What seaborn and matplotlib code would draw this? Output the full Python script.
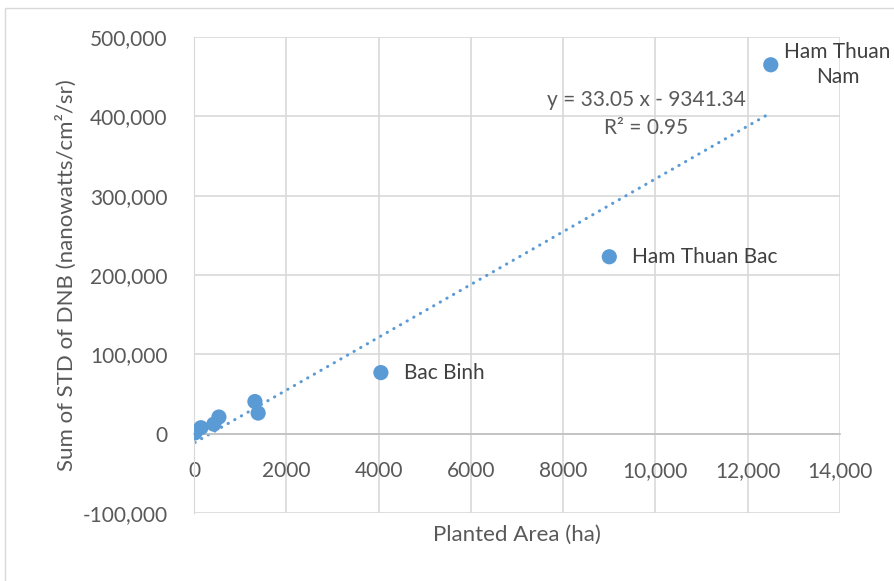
import matplotlib
matplotlib.use("Agg")
import matplotlib.pyplot as plt
import matplotlib.patches as mpatches
import seaborn as sns
import pandas as pd

# Planted area (ha) vs summed STD of DNB
area = [12500, 9000, 4050, 1320, 1390, 540, 430, 150, 20]
dnb_std = [465000, 223000, 77000, 40500, 26000, 21000, 12000, 7500, 1000]
names = ["Ham Thuan\nNam", "Ham Thuan Bac", "Bac Binh", "", "", "", "", "", ""]

x_ticks = [0, 2000, 4000, 6000, 8000, 10000, 12000, 14000]
x_ticklabels = ["0", "2000", "4000", "6000", "8000", "10,000", "12,000", "14,000"]
y_ticks = [-100000, 0, 100000, 200000, 300000, 400000, 500000]
y_ticklabels = ["-100,000", "0", "100,000", "200,000", "300,000", "400,000", "500,000"]

df = pd.DataFrame({"area": area, "dnb": dnb_std, "name": names})

sns.set_style("white")
plt.rcParams["font.family"] = ["Lato", "DejaVu Sans"]
tick_color = "#595959"
text_color = "#404040"
blue = "#5B9BD5"
fs = 15

fig = plt.figure(figsize=(8.94, 5.81), dpi=100)
ax = fig.add_axes([0.217, 0.117, 0.7226, 0.8193])

sns.regplot(data=df, x="area", y="dnb", scatter=False, ci=None, ax=ax,
            line_kws=dict(color=blue, linestyle=(0, (0.1, 2.4)), linewidth=2.2,
                          dash_capstyle="round"))
sns.scatterplot(data=df, x="area", y="dnb", ax=ax, color=blue, s=120,
                edgecolor="none", zorder=3)

ax.set_xlim(0, 14000)
ax.set_ylim(-100000, 500000)
ax.set_xticks(x_ticks)
ax.set_xticklabels(x_ticklabels)
ax.set_yticks(y_ticks)
ax.set_yticklabels(y_ticklabels)
ax.tick_params(axis="x", length=0, pad=20, labelsize=fs, colors=tick_color)
ax.tick_params(axis="y", length=0, pad=19, labelsize=fs, colors=tick_color)
ax.grid(True, color="#d9d9d9", linewidth=1.2)
ax.set_axisbelow(True)

for side in ["top", "right"]:
    ax.spines[side].set_visible(False)
ax.spines["left"].set_color("#d9d9d9")
ax.spines["bottom"].set_position(("data", 0))
ax.spines["bottom"].set_color("#bfbfbf")
ax.spines["bottom"].set_linewidth(1.2)

ax.set_xlabel("Planted Area (ha)", fontsize=16, color=tick_color)
ax.set_ylabel("Sum of STD of DNB (nanowatts/cm\u00b2/sr)", fontsize=16, color=tick_color)
ax.xaxis.set_label_coords(0.5, -0.046)
ax.xaxis.label.set_va("center")
ax.yaxis.set_label_coords(-0.198, 0.5)
ax.yaxis.label.set_va("center")

for i, row in df.iterrows():
    if not row["name"]:
        continue
    if "\n" in row["name"]:
        ax.annotate(row["name"], (row["area"], row["dnb"]), xytext=(48, 0),
                    textcoords="offset points", ha="center", va="center",
                    fontsize=fs, color=text_color, annotation_clip=False,
                    multialignment="center", linespacing=1.3)
    else:
        ax.annotate(row["name"], (row["area"], row["dnb"]), xytext=(16.5, 0),
                    textcoords="offset points", ha="left", va="center",
                    fontsize=fs, color=text_color)

ax.text(0.70, 0.868, "y = 33.05 x - 9341.34", transform=ax.transAxes,
        ha="center", va="center", fontsize=fs, color=tick_color)
ax.text(0.70, 0.809, "R\u00b2 = 0.95", transform=ax.transAxes,
        ha="center", va="center", fontsize=fs, color=tick_color)

fig.patches.append(mpatches.Rectangle((0.006, -0.01), 1.0, 0.997, transform=fig.transFigure,
                                      fill=False, edgecolor="#d9d9d9", linewidth=1))

fig.savefig("out.png", dpi=100)
